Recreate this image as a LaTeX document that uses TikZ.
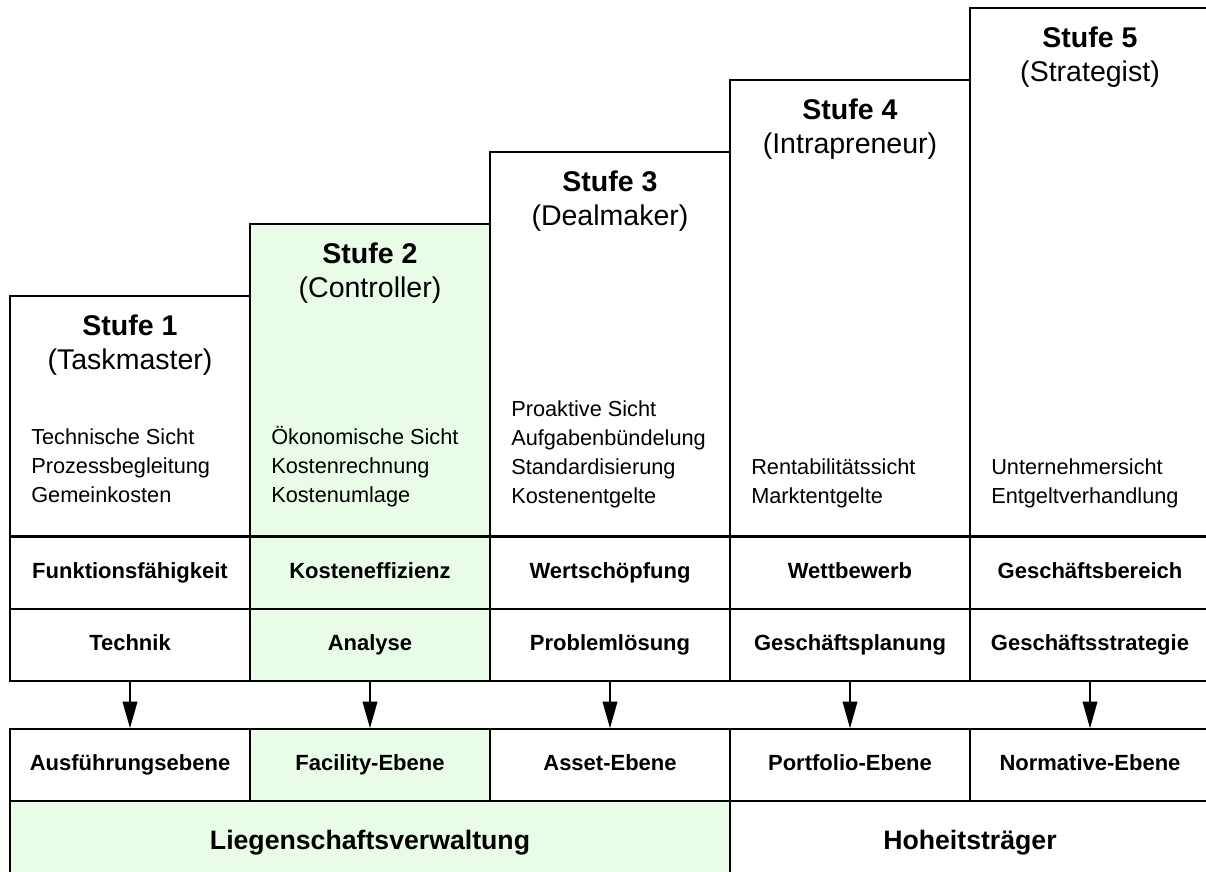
\documentclass[tikz,border=0pt]{standalone}
\usepackage{fontspec}
\setmainfont{Liberation Sans}
\usetikzlibrary{arrows.meta}
\definecolor{lightgreen}{RGB}{232,252,232}

\tikzset{
  stage/.style={draw, line width=1.2pt, minimum width=180pt, inner sep=0pt, anchor=south},
  cell/.style={draw, line width=1.2pt, minimum width=180pt, minimum height=54pt, inner sep=0pt,
    text height=11.9pt, text depth=3pt, font=\fontsize{16.5}{20}\selectfont\bfseries},
  head/.style={anchor=base, inner sep=0pt, font=\fontsize{21.4}{25}\selectfont\bfseries},
  role/.style={anchor=base, inner sep=0pt, font=\fontsize{21.4}{25}\selectfont},
  body/.style={anchor=base west, inner sep=0pt, font=\fontsize{16.3}{19}\selectfont},
  big/.style={text height=18.9pt, text depth=0pt, font=\fontsize{20}{24}\selectfont\bfseries},
  down/.style={-{Triangle[length=20pt,width=11pt]}, line width=1.2pt}
}

\begin{document}
\begin{tikzpicture}[x=0.75pt,y=-0.75pt]
\useasboundingbox (0,0) rectangle (1206,871);

% die fuenf Stufen
\foreach \i/\role/\fl/\za/\zb/\eb in {
    1/Taskmaster/white/Funktionsfähigkeit/Technik/Ausführungsebene,
    2/Controller/lightgreen/Kosteneffizienz/Analyse/Facility-Ebene,
    3/Dealmaker/white/Wertschöpfung/Problemlösung/Asset-Ebene,
    4/Intrapreneur/white/Wettbewerb/Geschäftsplanung/Portfolio-Ebene,
    5/Strategist/white/Geschäftsbereich/Geschäftsstrategie/Normative-Ebene}
{
  \pgfmathsetmacro\cx{130+240*(\i-1)}
  \pgfmathsetmacro\ty{297-72*(\i-1)}
  \node[stage, fill=\fl, minimum height={180pt+54pt*(\i-1)}] (s\i) at (\cx,537) {};
  \node[head] (h\i) at (\cx,\ty+38) {Stufe \i};
  \node[role] (r\i) at (\cx,\ty+72) {(\role)};
  \node[cell, fill=\fl] (z\i) at (\cx,573) {\za};
  \node[cell, fill=\fl] (k\i) at (\cx,645) {\zb};
  \node[cell, fill=\fl] (e\i) at (\cx,765) {\eb};
  \draw[down] (k\i) -- (e\i);
}

% Sichtweisen
\foreach \i/\y/\lines in {
    1/444/{Technische Sicht,Prozessbegleitung,Gemeinkosten},
    2/444/{Ökonomische Sicht,Kostenrechnung,Kostenumlage},
    3/416/{Proaktive Sicht,Aufgabenbündelung,Standardisierung,Kostenentgelte},
    4/474/{Rentabilitätssicht,Marktentgelte},
    5/474/{Unternehmersicht,Entgeltverhandlung}}
  \foreach \t [count=\k from 0] in \lines
    \node[body] (b\i-\k) at ({31+240*(\i-1)},{\y+29*\k}) {\t};

\node[cell, big, fill=lightgreen, minimum width=540pt] (lv) at (370,837) {Liegenschaftsverwaltung};
\node[cell, big, minimum width=360pt] (ht) at (970,837) {Hoheitsträger};
\end{tikzpicture}
\end{document}
